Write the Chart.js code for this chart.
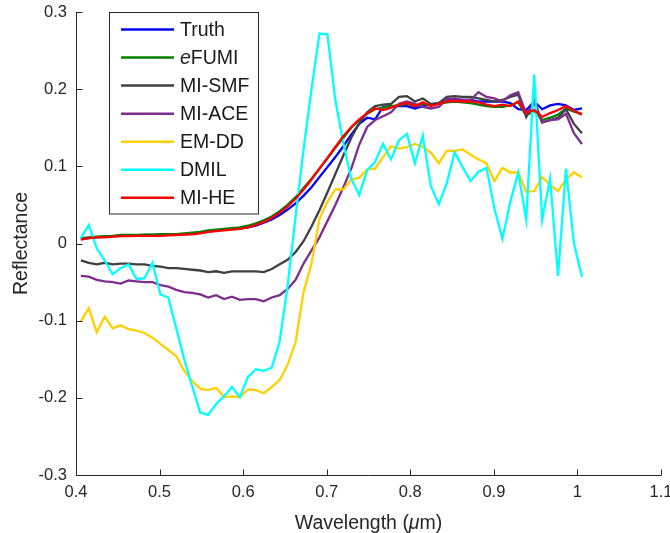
<!DOCTYPE html>
<html>
<head>
<meta charset="utf-8">
<title>Reflectance spectra</title>
<script src="https://cdn.jsdelivr.net/npm/chart.js@4.4.1/dist/chart.umd.min.js"></script>
<style>
  html, body { margin: 0; padding: 0; background: #ffffff; }
  #wrap { width: 670px; height: 533px; }
</style>
</head>
<body>
<div id="wrap"><canvas id="chart" width="670" height="533"></canvas></div>
<script>
// Band centres (µm)
const wavelengths = [
  0.4058, 0.4153, 0.4248, 0.4344, 0.4439, 0.4534, 0.4629, 0.4724, 0.4819, 0.4915,
  0.5010, 0.5105, 0.5200, 0.5295, 0.5390, 0.5486, 0.5581, 0.5676, 0.5771, 0.5866,
  0.5961, 0.6057, 0.6152, 0.6247, 0.6342, 0.6437, 0.6532, 0.6628, 0.6723, 0.6818,
  0.6913, 0.7008, 0.7103, 0.7199, 0.7294, 0.7389, 0.7484, 0.7579, 0.7674, 0.7770,
  0.7865, 0.7960, 0.8055, 0.8150, 0.8245, 0.8341, 0.8436, 0.8531, 0.8626, 0.8721,
  0.8816, 0.8912, 0.9007, 0.9102, 0.9197, 0.9292, 0.9387, 0.9483, 0.9578, 0.9673,
  0.9768, 0.9863, 0.9958, 1.0054
];

const seriesNames = ['Truth', 'eFUMI', 'MI-SMF', 'MI-ACE', 'EM-DD', 'DMIL', 'MI-HE'];

const truth = [
  0.006, 0.007, 0.008, 0.009, 0.0095, 0.010, 0.010, 0.0105, 0.011, 0.011,
  0.011, 0.0115, 0.012, 0.012, 0.013, 0.014, 0.015, 0.017, 0.018, 0.019,
  0.0195, 0.021, 0.023, 0.027, 0.031, 0.037, 0.044, 0.052, 0.062, 0.073,
  0.086, 0.099, 0.112, 0.126, 0.141, 0.155, 0.163, 0.161, 0.177, 0.178,
  0.178, 0.178, 0.175, 0.178, 0.180, 0.182, 0.186, 0.186, 0.186, 0.186,
  0.184, 0.184, 0.184, 0.184, 0.182, 0.174, 0.173, 0.184, 0.174, 0.179,
  0.181, 0.179, 0.173, 0.175
];

const eFUMI = [
  0.007, 0.008, 0.009, 0.0095, 0.010, 0.011, 0.011, 0.011, 0.0115, 0.0115,
  0.012, 0.012, 0.012, 0.013, 0.014, 0.015, 0.017, 0.018, 0.019, 0.020,
  0.021, 0.023, 0.026, 0.030, 0.035, 0.042, 0.050, 0.060, 0.072, 0.084,
  0.097, 0.110, 0.124, 0.137, 0.150, 0.160, 0.168, 0.174, 0.176, 0.178,
  0.179, 0.181, 0.178, 0.181, 0.179, 0.181, 0.183, 0.184, 0.183, 0.182,
  0.180, 0.178, 0.177, 0.177, 0.179, 0.183, 0.166, 0.172, 0.160, 0.163,
  0.167, 0.175, 0.171, 0.168
];

const miSMF = [
  -0.022, -0.025, -0.027, -0.025, -0.027, -0.026, -0.026, -0.027, -0.027, -0.029,
  -0.030, -0.032, -0.032, -0.033, -0.034, -0.035, -0.037, -0.036, -0.038, -0.036,
  -0.036, -0.036, -0.036, -0.037, -0.033, -0.027, -0.021, -0.011, 0.003, 0.022,
  0.043, 0.066, 0.090, 0.114, 0.137, 0.156, 0.170, 0.178, 0.180, 0.181,
  0.190, 0.191, 0.184, 0.188, 0.181, 0.182, 0.190, 0.191, 0.190, 0.190,
  0.188, 0.186, 0.184, 0.186, 0.190, 0.193, 0.164, 0.185, 0.157, 0.160,
  0.163, 0.174, 0.155, 0.143
];

const miACE = [
  -0.042, -0.043, -0.047, -0.049, -0.050, -0.052, -0.048, -0.049, -0.050, -0.050,
  -0.054, -0.056, -0.060, -0.063, -0.064, -0.066, -0.070, -0.067, -0.072, -0.069,
  -0.073, -0.072, -0.072, -0.075, -0.070, -0.067, -0.059, -0.047, -0.026, -0.009,
  0.008, 0.029, 0.050, 0.073, 0.097, 0.128, 0.151, 0.160, 0.165, 0.170,
  0.181, 0.184, 0.181, 0.177, 0.175, 0.177, 0.187, 0.188, 0.186, 0.186,
  0.196, 0.190, 0.188, 0.184, 0.192, 0.196, 0.168, 0.182, 0.157, 0.160,
  0.161, 0.168, 0.143, 0.129
];

const emDD = [
  -0.101, -0.084, -0.115, -0.095, -0.110, -0.106, -0.111, -0.113, -0.116, -0.122,
  -0.130, -0.138, -0.146, -0.165, -0.178, -0.188, -0.190, -0.187, -0.199, -0.198,
  -0.199, -0.189, -0.190, -0.194, -0.186, -0.177, -0.157, -0.128, -0.063, -0.026,
  0.032, 0.054, 0.070, 0.070, 0.083, 0.085, 0.096, 0.097, 0.112, 0.126,
  0.123, 0.125, 0.129, 0.125, 0.118, 0.104, 0.120, 0.120, 0.122, 0.115,
  0.109, 0.104, 0.081, 0.098, 0.092, 0.092, 0.067, 0.068, 0.086, 0.076,
  0.068, 0.083, 0.092, 0.086
];

const dmil = [
  0.007, 0.024, -0.006, -0.022, -0.040, -0.032, -0.027, -0.046, -0.045, -0.025,
  -0.066, -0.070, -0.110, -0.150, -0.185, -0.219, -0.222, -0.208, -0.198, -0.186,
  -0.199, -0.173, -0.163, -0.165, -0.161, -0.127, -0.055, 0.035, 0.122, 0.200,
  0.272, 0.271, 0.186, 0.130, 0.084, 0.063, 0.095, 0.106, 0.129, 0.109,
  0.134, 0.142, 0.104, 0.140, 0.075, 0.051, 0.078, 0.118, 0.099, 0.081,
  0.093, 0.098, 0.045, 0.006, 0.054, 0.092, 0.031, 0.219, 0.031, 0.084,
  -0.042, 0.097, 0.000, -0.043
];

const miHE = [
  0.005, 0.007, 0.008, 0.008, 0.009, 0.0095, 0.0095, 0.010, 0.010, 0.010,
  0.010, 0.0105, 0.011, 0.0115, 0.012, 0.013, 0.015, 0.016, 0.017, 0.018,
  0.019, 0.021, 0.024, 0.028, 0.033, 0.040, 0.048, 0.058, 0.070, 0.083,
  0.097, 0.111, 0.125, 0.139, 0.151, 0.161, 0.169, 0.175, 0.173, 0.176,
  0.180, 0.182, 0.178, 0.183, 0.178, 0.181, 0.184, 0.185, 0.184, 0.184,
  0.183, 0.180, 0.178, 0.180, 0.178, 0.184, 0.169, 0.173, 0.164, 0.169,
  0.173, 0.178, 0.172, 0.167
];

const xTicks = [0.4, 0.5, 0.6, 0.7, 0.8, 0.9, 1.0, 1.1];
const xTickLabels = ['0.4', '0.5', '0.6', '0.7', '0.8', '0.9', '1', '1.1'];
const yTicks = [-0.3, -0.2, -0.1, 0, 0.1, 0.2, 0.3];
const yTickLabels = ['-0.3', '-0.2', '-0.1', '0', '0.1', '0.2', '0.3'];

const seriesValues = [truth, eFUMI, miSMF, miACE, emDD, dmil, miHE];
const seriesColors = ['#0000ff', '#008000', '#404040', '#7e2f8e', '#ffd000', '#00ffff', '#ff0000'];

const FONT = '"Liberation Sans", Arial, Helvetica, sans-serif';
const INK = '#262626';

const datasets = seriesNames.map((name, i) => ({
  label: name,
  data: wavelengths.map((w, k) => ({ x: w, y: seriesValues[i][k] })),
  borderColor: seriesColors[i],
  backgroundColor: seriesColors[i],
  borderWidth: 2.3,
  pointRadius: 0,
  tension: 0,
  fill: false,
  // later series sit on top, so the first one gets the largest order
  order: seriesNames.length - i
}));

// Inward tick marks, L-shaped axes, axis titles and the boxed legend
const decorations = {
  id: 'decorations',
  afterDraw(chart) {
    const ctx = chart.ctx;
    const { left, right, top, bottom } = chart.chartArea;
    const xs = chart.scales.x, ys = chart.scales.y;
    ctx.save();
    ctx.strokeStyle = INK;
    ctx.lineWidth = 1;
    ctx.beginPath();
    ctx.moveTo(Math.round(left) + 0.5, top);
    ctx.lineTo(Math.round(left) + 0.5, Math.round(bottom) + 0.5);
    ctx.lineTo(right, Math.round(bottom) + 0.5);
    xTicks.forEach(v => {
      const px = Math.round(xs.getPixelForValue(v)) + 0.5;
      ctx.moveTo(px, Math.round(bottom) + 0.5);
      ctx.lineTo(px, Math.round(bottom) - 5.5);
    });
    yTicks.forEach(v => {
      const py = Math.round(ys.getPixelForValue(v)) + 0.5;
      ctx.moveTo(Math.round(left) + 0.5, py);
      ctx.lineTo(Math.round(left) + 6.5, py);
    });
    ctx.stroke();

    // axis titles
    ctx.fillStyle = INK;
    ctx.textBaseline = 'alphabetic';
    const xt1 = 'Wavelength (', xt2 = '\u03bc', xt3 = 'm)';
    ctx.font = '19.5px ' + FONT;
    const w1 = ctx.measureText(xt1).width;
    const w3 = ctx.measureText(xt3).width;
    ctx.font = 'italic 19.5px ' + FONT;
    const w2 = ctx.measureText(xt2).width;
    let tx = (left + right) / 2 - (w1 + w2 + w3) / 2;
    const ty = 529;
    ctx.textAlign = 'left';
    ctx.font = '19.5px ' + FONT;
    ctx.fillText(xt1, tx, ty);
    ctx.font = 'italic 19.5px ' + FONT;
    ctx.fillText(xt2, tx + w1, ty);
    ctx.font = '19.5px ' + FONT;
    ctx.fillText(xt3, tx + w1 + w2, ty);

    ctx.save();
    ctx.translate(27, (top + bottom) / 2);
    ctx.rotate(-Math.PI / 2);
    ctx.textAlign = 'center';
    ctx.font = '19.5px ' + FONT;
    ctx.fillText('Reflectance', 0, 0);
    ctx.restore();

    // legend box
    const bx = 109.5, by = 12.5, bw = 149, bh = 201.5;
    ctx.fillStyle = '#ffffff';
    ctx.fillRect(bx, by, bw, bh);
    ctx.strokeStyle = INK;
    ctx.lineWidth = 1;
    ctx.strokeRect(bx, by, bw, bh);
    ctx.textBaseline = 'middle';
    ctx.textAlign = 'left';
    chart.data.datasets.forEach((ds, i) => {
      const ry = 29.5 + i * 28.05;
      ctx.strokeStyle = ds.borderColor;
      ctx.lineWidth = 2.5;
      ctx.beginPath();
      ctx.moveTo(121, ry);
      ctx.lineTo(174, ry);
      ctx.stroke();
      ctx.fillStyle = '#1a1a1a';
      const tyL = ry + 1;
      if (ds.label === 'eFUMI') {
        ctx.font = 'italic 19.5px ' + FONT;
        ctx.fillText('e', 180, tyL);
        const we = ctx.measureText('e').width;
        ctx.font = '19.5px ' + FONT;
        ctx.fillText('FUMI', 180 + we, tyL);
      } else {
        ctx.font = '19.5px ' + FONT;
        ctx.fillText(ds.label, 180, tyL);
      }
    });
    ctx.restore();
  }
};

new Chart(document.getElementById('chart'), {
  type: 'line',
  data: { datasets },
  options: {
    responsive: false,
    animation: false,
    devicePixelRatio: 1,
    layout: { padding: { top: 12, right: 9, left: 0, bottom: 0 } },
    plugins: {
      legend: { display: false },
      tooltip: { enabled: false },
      title: { display: false }
    },
    scales: {
      x: {
        type: 'linear',
        min: 0.4,
        max: 1.1,
        afterBuildTicks(scale) { scale.ticks = xTicks.map(v => ({ value: v })); },
        afterFit(scale) {
          scale.height = 58;
          scale.paddingLeft = 0;
          scale.paddingRight = 0;
        },
        grid: { display: false, drawTicks: false },
        border: { display: false },
        ticks: {
          padding: 8,
          color: INK,
          font: { family: FONT, size: 16.5 },
          maxRotation: 0,
          callback: (v, i) => xTickLabels[i]
        }
      },
      y: {
        type: 'linear',
        min: -0.3,
        max: 0.3,
        afterBuildTicks(scale) { scale.ticks = yTicks.map(v => ({ value: v })); },
        afterFit(scale) {
          scale.width = 76;
          scale.paddingTop = 0;
          scale.paddingBottom = 0;
        },
        grid: { display: false, drawTicks: false },
        border: { display: false },
        ticks: {
          padding: 9,
          color: INK,
          font: { family: FONT, size: 16.5 },
          callback: (v, i) => yTickLabels[i]
        }
      }
    }
  },
  plugins: [decorations]
});
</script>
</body>
</html>
